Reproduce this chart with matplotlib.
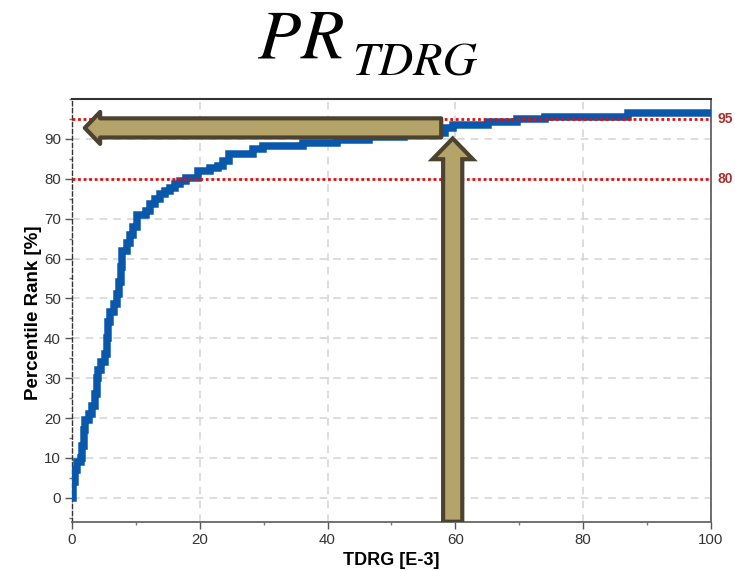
import matplotlib
matplotlib.use("Agg")
import matplotlib.pyplot as plt
from matplotlib.patches import FancyArrow
from matplotlib.ticker import MultipleLocator

# step curve (steps-post)
tdrg = [0.0, 0.2, 0.5, 0.7, 1.4, 1.6, 1.9, 2.1, 2.7, 3.2, 3.6, 3.9, 4.1, 4.6,
        5.1, 5.4, 5.7, 6.0, 6.6, 7.0, 7.3, 7.6, 7.9, 8.6, 9.1, 9.6, 10.2, 11.6,
        12.2, 13.0, 13.8, 14.6, 15.3, 16.1, 16.9, 17.9, 19.8, 21.6, 22.9, 23.7,
        24.5, 28.3, 29.9, 36.1, 41.5, 46.5, 52.0, 56.0, 58.4, 59.7, 65.2, 69.6,
        74.0, 87.1, 100.0]
rank = [0, 4, 7, 9, 10, 13, 17, 19.5, 21, 23, 26, 30, 32, 34,
        36, 40, 44, 46.5, 48.5, 51, 54, 58, 62, 63.8, 66, 68, 71, 72,
        73.6, 75, 76.2, 77, 77.8, 78.6, 79.4, 80.3, 82.0, 82.8, 83.2, 84.5,
        86.1, 87.4, 88.2, 89.0, 89.6, 90.4, 91.0, 91.6, 92.8, 93.6, 94.2, 94.9,
        95.6, 96.4, 96.4]

levels = [95, 80]
level_labels = ["95", "80"]
xticks = [0, 20, 40, 60, 80, 100]
yticks = [0, 10, 20, 30, 40, 50, 60, 70, 80, 90]

plt.rcParams["font.family"] = ["Liberation Sans", "DejaVu Sans"]

fig = plt.figure(figsize=(7.35, 5.71), dpi=100)
ax = fig.add_axes([0.098, 0.0863, 0.869, 0.7403])

ax.plot(tdrg, rank, drawstyle="steps-post", color="#0a58ab", lw=5.4,
        solid_joinstyle="miter", zorder=3)

for lv, lab in zip(levels, level_labels):
    ax.axhline(lv, color="#e01010", lw=2.0, ls=(0, (1, 1)), zorder=4)
    ax.text(1.01, lv, lab, transform=ax.get_yaxis_transform(), color="#a8302e",
            fontsize=10, fontweight="bold", va="center", ha="left")

# horizontal arrow pointing left
ax.add_patch(FancyArrow(57.8, 92.75, -55.8, 0, width=4.8, head_width=8.0,
                        head_length=2.4, length_includes_head=True,
                        facecolor="#b5a46a", edgecolor="#4b4330", lw=3.0,
                        joinstyle="round", zorder=5))
# vertical arrow pointing up
ax.add_patch(FancyArrow(59.6, -6.0, 0, 96.1, width=3.0, head_width=6.3,
                        head_length=5.2, length_includes_head=True,
                        facecolor="#b5a46a", edgecolor="#4b4330", lw=3.0,
                        joinstyle="miter", zorder=5))

ax.set_xlim(0, 100)
ax.set_ylim(-6, 100)
ax.set_xticks(xticks)
ax.set_yticks(yticks)
ax.xaxis.set_minor_locator(MultipleLocator(10))
ax.yaxis.set_minor_locator(MultipleLocator(5))
ax.tick_params(which="major", direction="out", length=5, width=1, color="#555555",
               labelsize=10.8, labelcolor="#333333", pad=3)
ax.tick_params(which="minor", direction="out", length=2.5, width=1, color="#777777")
ax.grid(True, which="major", color="#d3d3d3", ls=(0, (5, 4)), lw=1.1, zorder=0)

ax.spines["top"].set_color("#333333")
ax.spines["top"].set_linewidth(1.5)
ax.spines["right"].set_color("#555555")
ax.spines["right"].set_linewidth(1.2)
ax.spines["bottom"].set_color("#666666")
ax.spines["bottom"].set_linewidth(1.3)
ax.spines["left"].set_color("#333333")
ax.spines["left"].set_linestyle((0, (3, 2)))
ax.spines["left"].set_linewidth(1.0)

ax.set_xlabel("TDRG [E-3]", fontsize=13, fontweight="bold", labelpad=4)
ax.set_ylabel("Percentile Rank [%]", fontsize=13.5, fontweight="bold")
ax.yaxis.set_label_coords(-0.047, 0.495)

# title PR with subscript TDRG
fig.text(258 / 735, 1 - 57 / 571, "PR", fontsize=51, family="STIXGeneral",
         style="italic", ha="left", va="baseline")
fig.text(352 / 735, 1 - 75 / 571, "TDRG", fontsize=34.5, family="STIXGeneral",
         style="italic", ha="left", va="baseline")

fig.savefig("out.png", dpi=100)
